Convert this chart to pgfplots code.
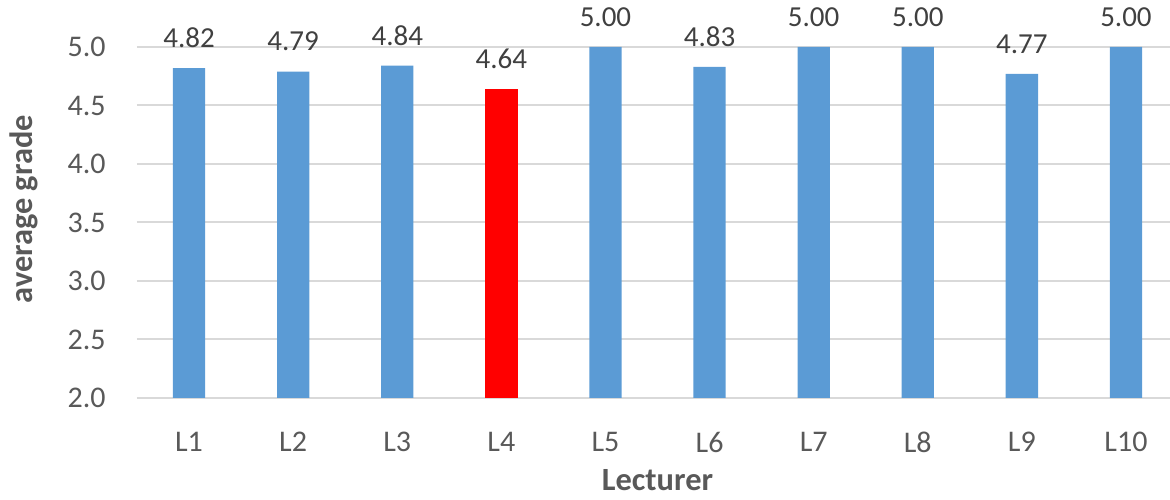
\documentclass[border=0pt]{standalone}
\usepackage{pgfplots}
\pgfplotsset{compat=1.18}
\usepackage{fontspec}
\setmainfont{Carlito}
\definecolor{barblue}{HTML}{5B9BD5}
\definecolor{barred}{HTML}{FF0000}
\definecolor{gridgray}{HTML}{D9D9D9}
\definecolor{ticktext}{HTML}{595959}
\definecolor{labeltext}{HTML}{404040}
\begin{document}
\begin{tikzpicture}
\begin{axis}[
  name=ax,
  at={(0,0)}, anchor=south west,
  scale only axis,
  width=516.5pt, height=175.5pt,
  xmin=-0.5, xmax=9.423,
  ymin=2, ymax=5,
  ytick={2,2.5,3,3.5,4,4.5,5},
  xtick={0,1,2,3,4,5,6,7,8,9},
  xticklabels={L1,L2,L3,L4,L5,L6,L7,L8,L9,L10},
  /pgf/number format/assume math mode=true,
  yticklabel={\pgfmathprintnumber[fixed,fixed zerofill,precision=1]{\tick}},
  major tick length=0pt,
  axis line style={draw=none},
  axis x line*=bottom,
  ymajorgrids,
  grid style={gridgray, line width=1pt},
  yticklabel style={font=\fontsize{15}{18}\selectfont, color=ticktext, anchor=east, inner sep=0pt, xshift=-15.5pt},
  xticklabel style={font=\fontsize{15}{18}\selectfont, color=ticktext, anchor=north, inner sep=0pt, yshift=-17pt},
  ybar, bar width=16.15pt, bar shift=0pt,
  clip=false,
  nodes near coords,
  nodes near coords style={font=\fontsize{14.5}{17}\selectfont, color=labeltext, anchor=south, inner sep=0pt, yshift=10pt,
    /pgf/number format/.cd, fixed, fixed zerofill, precision=2},
]
\draw[gridgray, line width=1pt] (axis cs:-0.5,2) -- (axis cs:9.423,2);
\addplot[fill=barblue, draw=none] coordinates {(0,4.82) (1,4.79) (2,4.84) (4,5.00) (5,4.83) (6,5.00) (7,5.00) (8,4.77) (9,5.00)};
\addplot[fill=barred, draw=none] coordinates {(3,4.64)};
\node[font=\bfseries\fontsize{16.2}{19}\selectfont, color=ticktext, anchor=base, yshift=-46.5pt] at (axis cs:4.5,2) {Lecturer};
\end{axis}
\node[font=\bfseries\fontsize{16.2}{19}\selectfont, color=ticktext, rotate=90, anchor=center] at ([shift={(-56.5pt,94.4pt)}]ax.south west) {average grade};
\pgfresetboundingbox
\path[use as bounding box] ([shift={(-68.5pt,-51pt)}]ax.south west) rectangle ([shift={(0pt,23.5pt)}]ax.north east);
\end{tikzpicture}
\end{document}
